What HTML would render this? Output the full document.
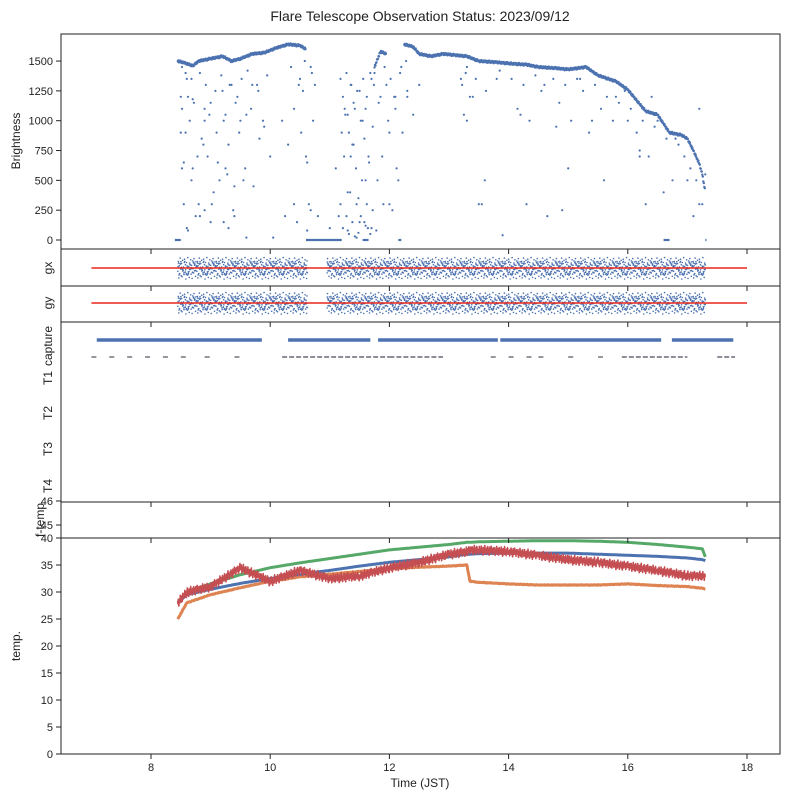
<!DOCTYPE html>
<html><head><meta charset="utf-8"><style>
body{margin:0;background:#fff;}
svg text{font-family:"Liberation Sans","DejaVu Sans",sans-serif;fill:#222;}
</style></head><body>
<svg id="chart" width="789" height="798" xmlns="http://www.w3.org/2000/svg">
<text x="420" y="21" text-anchor="middle" font-size="14">Flare Telescope Observation Status: 2023/09/12</text>
<g id="marks"></g>
<g id="frames"></g>
</svg>
<script>
// ---- data ----
const xTicks=[8,10,12,14,16,18];
const brightTicks=[0,250,500,750,1000,1250,1500];
const tempTicks=[0,5,10,15,20,25,30,35,40];
const ftempTicks=[45,46];
const envTimes=[8.45,8.6,8.7,8.8,9.0,9.2,9.35,9.5,9.7,9.9,10.1,10.3,10.5,10.6,null,11.75,11.85,11.95,null,12.25,12.4,12.5,12.7,12.9,13.1,13.3,13.5,13.8,14.0,14.3,14.5,14.8,15.0,15.3,15.5,15.8,16.0,16.1,16.3,16.5,16.7,16.9,17.0,17.1,17.2,17.25,17.3];
const envValues=[1500,1480,1460,1500,1520,1540,1500,1520,1560,1570,1610,1640,1630,1600,null,1450,1580,1560,null,1640,1620,1560,1540,1560,1550,1540,1500,1490,1480,1470,1450,1440,1430,1450,1380,1330,1260,1200,1080,1050,900,880,850,750,640,550,400];
const zeroStarts=[8.4,10.6,11.55,12.15,16.6,17.3];
const zeroEnds=[8.5,11.2,11.65,12.2,16.7,17.32];
const dropTimes=[8.5,8.5,8.55,8.6,8.6,8.65,8.7,8.7,8.75,8.8,8.85,8.9,8.9,8.95,9.0,9.05,9.1,9.15,9.2,9.25,9.3,9.3,9.35,9.4,9.45,9.5,9.55,9.6,9.6,9.7,9.8,9.9,10.0,10.05,10.2,10.3,10.4,10.45,10.5,10.55,10.6,10.65,10.7,11.1,11.15,11.2,11.25,11.3,11.3,11.35,11.4,11.45,11.5,11.5,11.55,11.6,11.6,11.65,11.7,11.7,11.75,11.8,11.85,11.9,11.95,12.0,12.05,12.1,12.15,12.2,12.3,12.4,12.5,13.2,13.3,13.4,13.5,13.6,13.8,13.9,14.2,14.3,14.6,14.8,14.9,15.2,15.4,15.6,15.8,16.0,16.2,16.3,16.4,16.5,16.6,16.8,17.0,17.1,17.2,17.3,9.0,9.4,10.8,11.0,11.3,11.45,11.6,12.0,12.1,8.55,8.9,9.25,10.4,11.35,11.4,12.3,13.3,15.0,16.2,17.2,
8.52,8.52,8.52,8.58,8.58,8.62,8.62,8.68,8.68,8.72,8.78,8.82,8.82,8.88,8.92,8.98,9.02,9.08,9.12,9.18,9.22,9.22,9.28,9.32,9.38,9.42,9.48,9.52,9.58,9.62,9.68,9.72,9.78,9.82,9.88,9.95,10.25,10.35,10.48,10.52,10.58,10.62,10.62,10.68,10.68,10.72,10.75,
11.18,11.18,11.22,11.22,11.24,11.26,11.28,11.28,11.32,11.32,11.34,11.36,11.38,11.38,11.42,11.42,11.44,11.46,11.48,11.48,11.52,11.52,11.54,11.56,11.58,11.58,11.62,11.62,11.64,11.66,11.68,11.68,11.72,11.72,11.74,11.78,11.82,11.88,11.92,11.98,12.02,12.08,12.12,12.18,12.22,12.28,
13.22,13.25,13.28,13.35,13.45,13.55,13.62,13.85,14.05,14.15,14.25,14.35,14.45,14.55,14.65,14.75,14.85,14.95,15.05,15.15,15.25,15.35,15.45,15.55,15.65,15.75,15.85,15.95,16.05,16.15,16.25,16.35,16.45,16.55,16.65,16.75,16.85,16.95,17.05,17.15,17.25];
const dropValues=[1200,900,300,1350,100,1000,600,1180,200,300,850,250,1000,700,1150,400,900,500,1250,600,800,100,1300,200,1200,1000,500,1050,20,1300,1250,950,700,20,1000,800,1100,150,1350,1250,700,300,1400,600,200,900,1100,400,1050,1300,800,300,1250,150,1000,500,1100,700,1350,100,1400,500,1200,300,1300,900,250,1100,500,1450,1250,1050,1300,1350,1000,1200,300,500,1350,40,1050,300,1300,950,250,1350,1000,500,1200,1000,750,300,1200,1000,400,850,500,200,300,550,150,450,200,100,80,20,120,300,1200,650,1100,1050,300,700,1150,1200,1450,600,700,1100,
1450,1100,600,1400,900,1200,80,1350,500,1150,700,1400,200,800,1300,1050,300,1250,650,1380,1000,150,550,1300,250,1150,900,1350,600,1420,1100,450,1300,850,1000,1380,200,1450,1300,900,1500,650,80,1450,250,1000,1300,
1350,300,1200,100,700,1050,1400,200,900,50,400,1300,150,800,1100,30,600,1250,350,60,1000,200,500,1350,150,850,300,1200,100,650,1400,50,950,250,1300,80,1150,700,1450,1000,1350,1200,600,1400,900,1500,
1300,1050,1400,1200,1350,300,1250,1420,1350,1100,1300,1000,1380,1250,200,1350,1150,1300,1000,1350,1250,900,1300,1100,1200,1000,1150,1250,1100,900,1000,700,950,1000,850,500,800,700,600,500,300];
const noise=[0.3,-0.6,0.9,-0.2,0.5,-0.9,0.1,0.7,-0.4,0.8,-0.7,0.2,-0.1,0.6,-0.8,0.4,-0.3,1.0,-0.5,0.0,0.65,-0.95,0.35,-0.15,0.85,-0.45,0.15,-0.75,0.55,-0.25,0.95,-0.65,0.05,0.45,-0.85,0.25,-0.35,0.75,-0.55,-0.05];
const captureStarts=[7.09,10.30,11.81,13.86,16.74];
const captureEnds=[9.86,11.68,13.82,16.56,17.77];
const t1Starts=[7.0,7.3,7.6,7.9,8.2,8.5,8.9,9.4,10.2,12.0,13.7,14.0,14.3,14.5,15.0,15.5,15.9,17.5];
const t1Ends=[7.1,7.4,7.7,8.0,8.3,8.6,9.0,9.5,12.0,12.9,13.8,14.1,14.4,14.6,15.1,15.6,17.0,17.8];
const tempTimes=[8.45,8.6,9.0,9.5,10.0,10.5,11.0,11.5,12.0,12.5,13.0,13.3,13.35,13.5,14.0,14.5,15.0,15.5,16.0,16.5,17.0,17.25,17.3];
const tempBlue=[28,29.5,30.5,31.6,32.5,33.3,34,34.8,35.5,36,36.5,37,37,37.1,37.2,37.2,37.2,37,36.8,36.6,36.3,36,35.8];
const tempGreen=[28,30,31.5,33.2,34.5,35.4,36.2,37,37.8,38.3,38.8,39.2,39.2,39.3,39.4,39.5,39.5,39.4,39.2,38.8,38.3,38,36.5];
const tempOrange=[25,28,29.5,30.8,32,32.8,33.3,33.8,34.3,34.6,34.8,35,32,31.8,31.5,31.3,31.3,31.3,31.5,31.2,31,30.7,30.5];
const tempRed=[28,30,31,34.5,32,34,32.5,33,34.5,35.5,37,37.5,37.8,37.8,37.5,36.8,36,35.5,34.8,34,33,33,32.8];

// ---- geometry ----
const L=61,R=780;
const x=t=>151+(t-8)*59.6;
const P={b:[34,249],gx:[249,286],gy:[286,322],cap:[322,502],ft:[502,538],tp:[538,754]};
const yB=v=>240-v*0.1193;
const yT=v=>754-v*5.4;
const yF=v=>525-(v-45)*24;
const NS="http://www.w3.org/2000/svg";
const marks=document.getElementById('marks'),frames=document.getElementById('frames');
function mk(tag,attrs,parent,txt){const e=document.createElementNS(NS,tag);for(const k in attrs)e.setAttribute(k,attrs[k]);if(txt!==undefined)e.textContent=txt;parent.appendChild(e);return e;}
const BLUE='#4c72b0';
function dot(cx,cy,c,r){const e=mk('circle',{cx:cx.toFixed(1),cy:cy.toFixed(1),r:r||1.1,fill:c||BLUE},marks);

}

// brightness envelope
for(let i=0;i<envTimes.length-1;i++){
  if(envTimes[i]===null||envTimes[i+1]===null)continue;
  const t0=envTimes[i],t1=envTimes[i+1],v0=envValues[i],v1=envValues[i+1];
  const n=Math.max(2,Math.round((t1-t0)*120));
  for(let k=0;k<n;k++){const f=k/n;dot(x(t0+(t1-t0)*f),yB(v0+(v1-v0)*f)+noise[k%noise.length]*1.2,BLUE,1.2);}
}
for(let i=0;i<zeroStarts.length;i++){
  const l=mk('line',{x1:x(zeroStarts[i]),x2:x(zeroEnds[i]),y1:yB(0),y2:yB(0),stroke:BLUE,'stroke-width':2.2},marks);
  
  
}
for(let i=0;i<dropTimes.length;i++)dot(x(dropTimes[i]),yB(dropValues[i]),BLUE,1.1);

// gx / gy scatter
function guide(panel,cy){
  for(let t=8.45,k=0;t<17.3;t+=0.008,k++){
    if(t>10.62&&t<10.95)continue;
    dot(x(t),cy+noise[k%noise.length]*11,BLUE,0.8);
    dot(x(t+0.004),cy+noise[(k*7+3)%noise.length]*7,BLUE,0.8);
  }
  const l=mk('line',{x1:x(7.0),x2:x(18.0),y1:cy,y2:cy,stroke:'#e8261c','stroke-width':1.6},marks);
  
  
}
guide('gx',268);guide('gy',303);

// capture and T1 rows
for(let i=0;i<captureStarts.length;i++){
  const l=mk('line',{x1:x(captureStarts[i]),x2:x(captureEnds[i]),y1:340,y2:340,stroke:BLUE,'stroke-width':3.5},marks);
  
  
}
for(let i=0;i<t1Starts.length;i++){
  const l=mk('line',{x1:x(t1Starts[i]),x2:x(t1Ends[i]),y1:357,y2:357,stroke:'#445',opacity:0.8,'stroke-width':1.4,'stroke-dasharray':'5 2'},marks);
  
  
}

// temperatures
function tempLine(vals,color,name,w,jit){
  let pts=[];
  for(let i=0;i<tempTimes.length-1;i++){
    const t0=tempTimes[i],t1=tempTimes[i+1];const n=Math.max(1,Math.round((t1-t0)*(jit>1?120:60)));
    for(let k=0;k<n;k++){const f=k/n;pts.push([x(t0+(t1-t0)*f),yT(vals[i]+(vals[i+1]-vals[i])*f)+(jit?noise[(i*13+k)%noise.length]*jit:0)]);}
  }
  pts.push([x(tempTimes[tempTimes.length-1]),yT(vals[vals.length-1])]);
  const p=mk('polyline',{points:pts.map(q=>q[0].toFixed(1)+','+q[1].toFixed(1)).join(' '),fill:'none',stroke:color,'stroke-width':w,'stroke-linejoin':'round'},marks);
  
  
}
tempLine(tempGreen,'#55a868','temp-series-green',3,0);
tempLine(tempOrange,'#dd8452','temp-series-orange',3,0.4);
tempLine(tempBlue,'#4c72b0','temp-series-blue',3,0);
tempLine(tempRed,'#c44e52','temp-series-red',1.6,5);

// frames, ticks, labels
for(const k in P){
  const r=mk('rect',{x:L,y:P[k][0],width:R-L,height:P[k][1]-P[k][0],fill:'none',stroke:'#222','stroke-width':1},frames);
  
  
  for(const t of xTicks){mk('line',{x1:x(t),x2:x(t),y1:P[k][1],y2:P[k][1]+5,stroke:'#222'},frames);}
}
for(const t of xTicks){const e=mk('text',{x:x(t),y:771,'text-anchor':'middle','font-size':11},frames,String(t));

}
function yt(v,fn,name){const yy=fn(v);mk('line',{x1:L-5,x2:L,y1:yy,y2:yy,stroke:'#222'},frames);
const e=mk('text',{x:L-8,y:yy+4,'text-anchor':'end','font-size':11},frames,String(v));

}
for(const v of brightTicks)yt(v,yB,'brightness-tick-label');
for(const v of tempTicks)yt(v,yT,'temp-tick-label');
for(const v of ftempTicks)yt(v,yF,'ftemp-tick-label');
function ylab(txt,cx,cy,name){const e=mk('text',{x:cx,y:cy,'text-anchor':'middle','font-size':12,transform:`rotate(-90 ${cx} ${cy})`},frames,txt);

}
ylab('Brightness',20,141,'brightness-axis-title');
ylab('gx',52,268,'gx-axis-title');
ylab('gy',52,303,'gy-axis-title');
ylab('capture',52,346,'capture-label');
ylab('T1',52,378,'t1-label');
ylab('T2',52,413,'t2-label');
ylab('T3',52,449,'t3-label');
ylab('T4',52,486,'t4-label');
ylab('f-temp',44,520,'ftemp-axis-title');
ylab('temp.',20,646,'temp-axis-title');
const xl=mk('text',{x:420,y:787,'text-anchor':'middle','font-size':12},frames,'Time (JST)');


</script>
</body></html>
